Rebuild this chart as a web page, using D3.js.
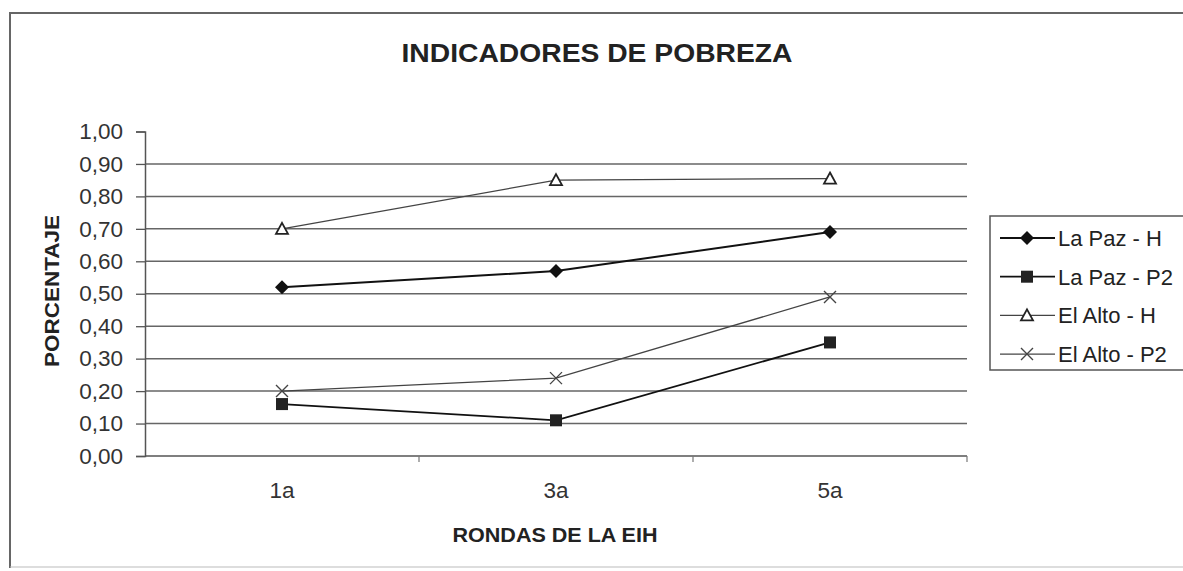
<!DOCTYPE html>
<html>
<head>
<meta charset="utf-8">
<script src="https://cdn.jsdelivr.net/npm/d3@7"></script>
<style>
  body { margin: 0; background: #fff; }
  svg { display: block; font-family: "Liberation Sans", Arial, sans-serif; }
</style>
</head>
<body>
<div id="chart"></div>
<script>
// values
const rounds = ["1a", "3a", "5a"];
const seriesNames = ["La Paz - H", "La Paz - P2", "El Alto - H", "El Alto - P2"];
const laPazH = [0.52, 0.57, 0.69];
const laPazP2 = [0.16, 0.11, 0.35];
const elAltoH = [0.70, 0.85, 0.855];
const elAltoP2 = [0.20, 0.24, 0.49];
const yTicks = [0, 0.1, 0.2, 0.3, 0.4, 0.5, 0.6, 0.7, 0.8, 0.9, 1.0];

const series = [
    { name: seriesNames[0], values: laPazH, symbol: "diamond", color: "#111", width: 2 },
    { name: seriesNames[1], values: laPazP2, symbol: "square", color: "#111", width: 1.8 },
    { name: seriesNames[2], values: elAltoH, symbol: "triangle", color: "#444", width: 1.3 },
    { name: seriesNames[3], values: elAltoP2, symbol: "cross", color: "#444", width: 1.3 }
];

const pageWidth = 1183;
const pageHeight = 571;
const plotLeft = 145, plotRight = 967, plotTop = 131.5, plotBottom = 456;

const svg = d3.select("#chart")
    .append("svg")
    .attr("width", pageWidth)
    .attr("height", pageHeight);

// outer chart frame (bottom edge is faint in the scan)
svg.append("rect")
    .attr("x", 10).attr("y", 13)
    .attr("width", 1200).attr("height", 554)
    .attr("fill", "#fff")
    .attr("stroke", "none");
svg.append("path")
    .attr("d", "M10,568V13H1190")
    .attr("fill", "none")
    .attr("stroke", "#666")
    .attr("stroke-width", 2);
svg.append("line")
    .attr("x1", 10).attr("x2", 1190).attr("y1", 567).attr("y2", 567)
    .attr("stroke", "#bbb").attr("stroke-width", 1);

const x = d3.scaleBand().domain(rounds).range([plotLeft, plotRight]);
const y = d3.scaleLinear().domain([0, 1]).range([plotBottom, plotTop]);

// gridlines
svg.append("g")
    .selectAll("line")
    .data(yTicks.filter(t => t > 0 && t < 1))
    .enter().append("line")
    .attr("x1", plotLeft).attr("x2", plotRight)
    .attr("y1", d => y(d)).attr("y2", d => y(d))
    .attr("stroke", "#666")
    .attr("stroke-width", 1.5);

// y axis
const yAxis = svg.append("g")
    .attr("transform", "translate(" + plotLeft + ",0)")
    .call(d3.axisLeft(y).tickValues(yTicks).tickSize(9).tickPadding(13)
        .tickFormat(d => d3.format(".2f")(d).replace(".", ",")));
yAxis.selectAll("text")
    .attr("font-size", 22.5)
    .attr("fill", "#333")
    .attr("font-family", "Liberation Sans, Arial, sans-serif");
yAxis.selectAll("line").attr("stroke", "#555").attr("stroke-width", 1.3);
yAxis.select(".domain").attr("stroke", "#555").attr("stroke-width", 1.5);

// x axis: ticks sit on the band boundaries
const xAxisG = svg.append("g")
    .attr("transform", "translate(0," + plotBottom + ")");
xAxisG.append("line")
    .attr("x1", plotLeft).attr("x2", plotRight)
    .attr("stroke", "#555").attr("stroke-width", 1.5);
xAxisG.selectAll(".tick")
    .data(rounds)
    .enter().append("line")
    .attr("x1", d => x(d) + x.bandwidth()).attr("x2", d => x(d) + x.bandwidth())
    .attr("y1", 0).attr("y2", 6)
    .attr("stroke", "#777").attr("stroke-width", 1.2);
xAxisG.selectAll("text")
    .data(rounds)
    .enter().append("text")
    .attr("x", d => x(d) + x.bandwidth() / 2)
    .attr("y", 42)
    .attr("text-anchor", "middle")
    .attr("font-size", 22.5)
    .attr("fill", "#333")
    .text(d => d);

// titles
svg.append("text")
    .attr("x", 597).attr("y", 62)
    .attr("text-anchor", "middle")
    .attr("font-size", 26)
    .attr("font-weight", "bold")
    .attr("fill", "#222")
    .attr("textLength", 391)
    .attr("lengthAdjust", "spacingAndGlyphs")
    .text("INDICADORES DE POBREZA");

svg.append("text")
    .attr("x", 555).attr("y", 542)
    .attr("text-anchor", "middle")
    .attr("font-size", 21)
    .attr("font-weight", "bold")
    .attr("fill", "#222")
    .attr("textLength", 205)
    .attr("lengthAdjust", "spacingAndGlyphs")
    .text("RONDAS DE LA EIH");

svg.append("text")
    .attr("transform", "translate(59,291) rotate(-90)")
    .attr("text-anchor", "middle")
    .attr("font-size", 21)
    .attr("font-weight", "bold")
    .attr("fill", "#222")
    .attr("textLength", 152)
    .attr("lengthAdjust", "spacingAndGlyphs")
    .text("PORCENTAJE");

function drawMarker(g, symbol, color) {
    if (symbol === "diamond") {
        g.append("path").attr("d", "M0,-7L7,0L0,7L-7,0Z")
            .attr("fill", "#111");
    } else if (symbol === "square") {
        g.append("rect").attr("x", -6).attr("y", -6)
            .attr("width", 12).attr("height", 12).attr("fill", "#222");
    } else if (symbol === "triangle") {
        g.append("path").attr("d", "M0,-6L6,5H-6Z")
            .attr("fill", "#fff").attr("stroke", "#222").attr("stroke-width", 1.8);
    } else {
        g.append("path").attr("d", "M-6,-6L6,6M-6,6L6,-6")
            .attr("stroke", color).attr("stroke-width", 1.4).attr("fill", "none");
    }
}

const line = d3.line()
    .x((d, i) => x(rounds[i]) + x.bandwidth() / 2)
    .y(d => y(d));

series.forEach(s => {
    svg.append("path")
        .datum(s.values)
        .attr("d", line)
        .attr("fill", "none")
        .attr("stroke", s.color)
        .attr("stroke-width", s.width);
    s.values.forEach((v, i) => {
        const g = svg.append("g")
            .attr("transform", "translate(" + (x(rounds[i]) + x.bandwidth() / 2) + "," + y(v) + ")");
        drawMarker(g, s.symbol, s.color);
    });
});

// legend
const legend = svg.append("g");
legend.append("rect")
    .attr("x", 990).attr("y", 216)
    .attr("width", 260).attr("height", 154)
    .attr("fill", "#fff")
    .attr("stroke", "#555")
    .attr("stroke-width", 1.5);

series.forEach((s, i) => {
    const yy = 238 + i * 38.7;
    legend.append("line")
        .attr("x1", 1000).attr("x2", 1055)
        .attr("y1", yy).attr("y2", yy)
        .attr("stroke", s.color).attr("stroke-width", s.width);
    const g = legend.append("g").attr("transform", "translate(1027," + yy + ")");
    drawMarker(g, s.symbol, s.color);
    legend.append("text")
        .attr("x", 1058).attr("y", yy + 8)
        .attr("font-size", 22)
        .attr("fill", "#222")
        .text(s.name);
});
</script>
</body>
</html>
